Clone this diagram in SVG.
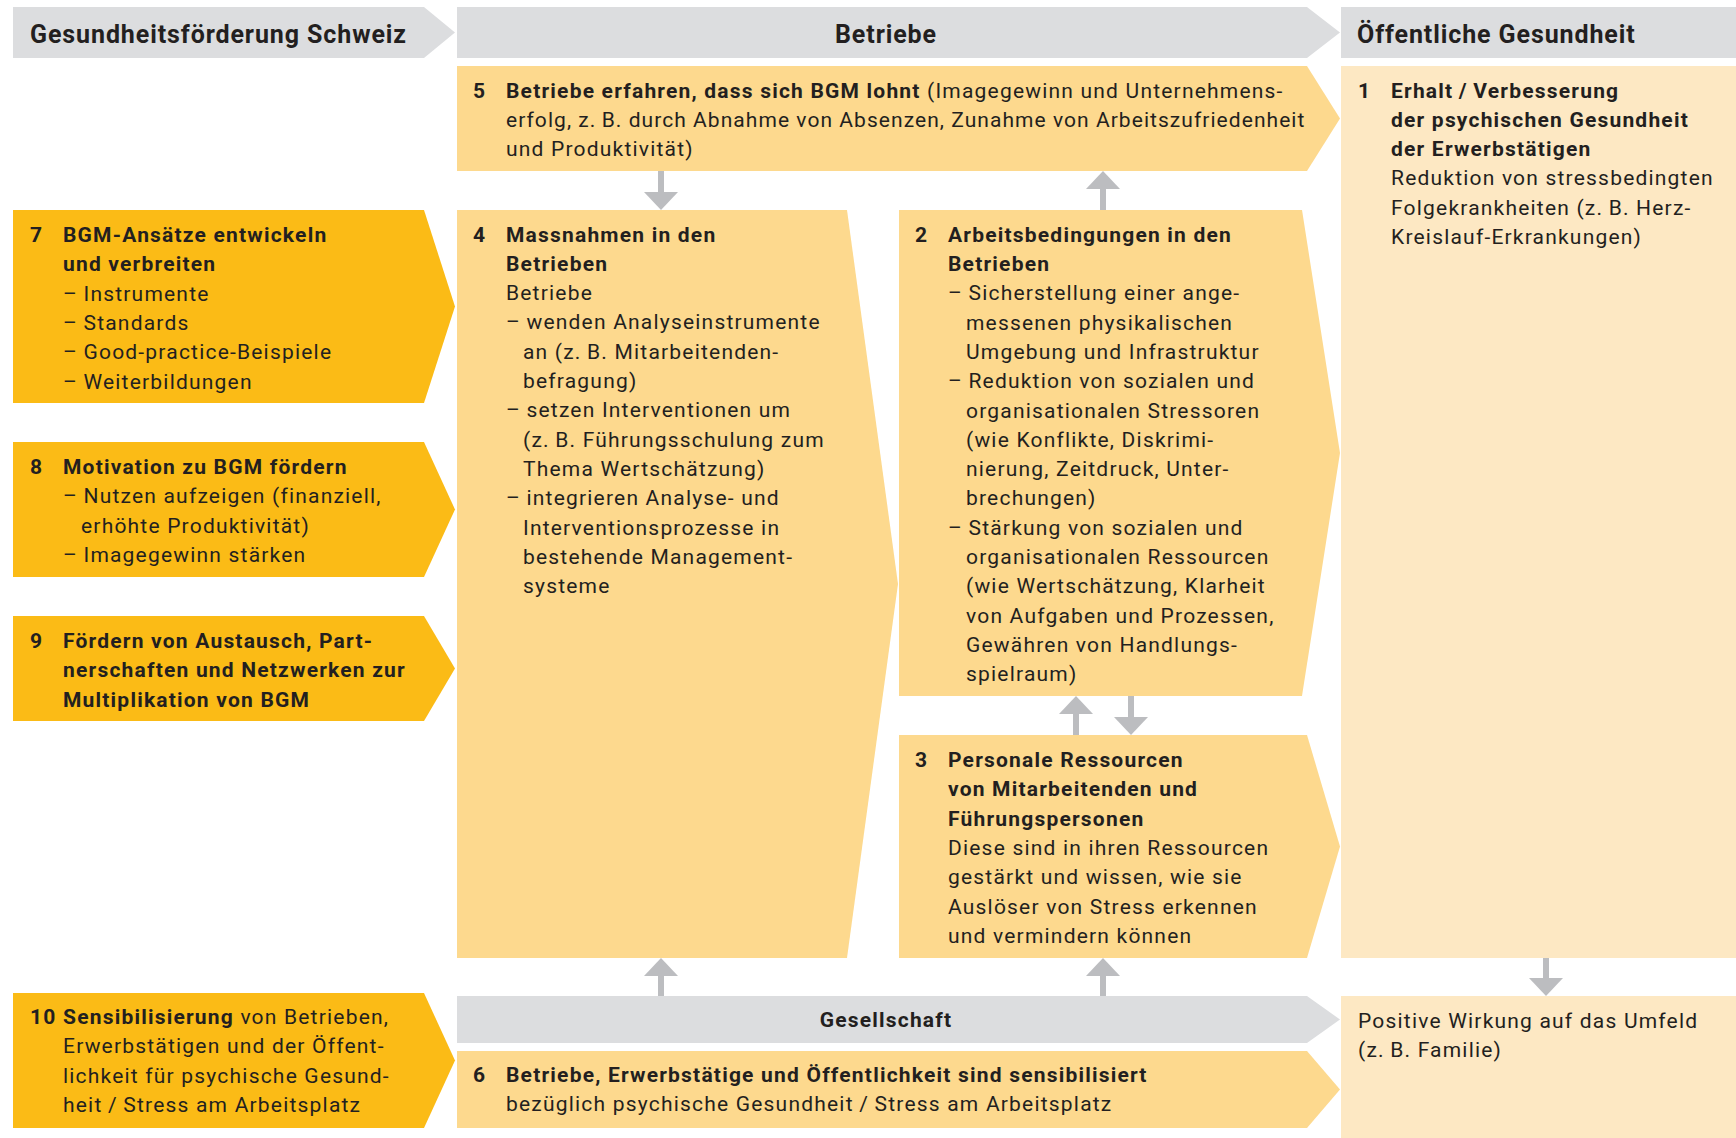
<svg xmlns="http://www.w3.org/2000/svg" width="1736" height="1138" viewBox="0 0 1736 1138">
<style>
.t{font-family:Roboto,"Liberation Sans",sans-serif;font-size:21px;fill:#231f20;letter-spacing:1.2px}
.b{font-weight:700}
.h{font-size:25px;font-weight:700;letter-spacing:0.9px}
.gray{fill:#dcdddf}
.dark{fill:#fbbb16}
.light{fill:#fdd98e}
.cream{fill:#fde8c3}
.arr{stroke:#bcbdc0;stroke-width:6;fill:none}
</style>
<defs>
<marker id="ah" markerUnits="userSpaceOnUse" viewBox="0 0 18 34" markerWidth="18" markerHeight="34" refX="0" refY="17" orient="auto">
<path d="M0,0 L18,17 L0,34 Z" fill="#bcbdc0"/>
</marker>
</defs>

<g id="header-gfs">
<polygon class="gray" points="13,7 424,7 455,32.5 424,58 13,58"/>
<text class="t h" x="30" y="43">Gesundheitsförderung Schweiz</text>
</g>
<g id="header-betriebe">
<polygon class="gray" points="457,7 1307,7 1340,32.5 1307,58 457,58"/>
<text class="t h" x="886" y="43" text-anchor="middle">Betriebe</text>
</g>
<g id="header-oeffentlich">
<rect class="gray" x="1341" y="7" width="395" height="51"/>
<text class="t h" x="1357" y="43">Öffentliche Gesundheit</text>
</g>

<g id="node5">
<polygon class="light" points="457,66 1307,66 1340,118.5 1307,171 457,171"/>
<text class="t b" x="473" y="97.5">5</text>
<text class="t" x="506" y="97.5"><tspan class="b">Betriebe erfahren, dass sich BGM lohnt</tspan> (Imagegewinn und Unternehmens-</text>
<text class="t" x="506" y="126.8" style="letter-spacing:1.05px">erfolg, z.&#8201;B. durch Abnahme von Absenzen, Zunahme von Arbeitszufriedenheit</text>
<text class="t" x="506" y="156.1">und Produktivität)</text>
</g>

<g id="node1">
<rect class="cream" x="1341" y="66" width="395" height="892"/>
<text class="t b" x="1358" y="97.5">1</text>
<text class="t b" x="1391" y="97.5">Erhalt&#8201;/&#8201;Verbesserung</text>
<text class="t b" x="1391" y="126.8">der psychischen Gesundheit</text>
<text class="t b" x="1391" y="156.1">der Erwerbstätigen</text>
<text class="t" x="1391" y="185.4">Reduktion von stressbedingten</text>
<text class="t" x="1391" y="214.7">Folgekrankheiten (z.&#8201;B. Herz-</text>
<text class="t" x="1391" y="244">Kreislauf-Erkrankungen)</text>
</g>

<g id="node7">
<polygon class="dark" points="13,210 424,210 455,306.5 424,403 13,403"/>
<text class="t b" x="30" y="242">7</text>
<text class="t b" x="63" y="242">BGM-Ansätze entwickeln</text>
<text class="t b" x="63" y="271.3">und verbreiten</text>
<text class="t" x="63" y="300.6">–&#8201;Instrumente</text>
<text class="t" x="63" y="329.9">–&#8201;Standards</text>
<text class="t" x="63" y="359.2">–&#8201;Good-practice-Beispiele</text>
<text class="t" x="63" y="388.5">–&#8201;Weiterbildungen</text>
</g>

<g id="node8">
<polygon class="dark" points="13,442 424,442 455,509.5 424,577 13,577"/>
<text class="t b" x="30" y="474">8</text>
<text class="t b" x="63" y="474">Motivation zu BGM fördern</text>
<text class="t" x="63" y="503.3">–&#8201;Nutzen aufzeigen (finanziell,</text>
<text class="t" x="81" y="532.6">erhöhte Produktivität)</text>
<text class="t" x="63" y="561.9">–&#8201;Imagegewinn stärken</text>
</g>

<g id="node9">
<polygon class="dark" points="13,616 424,616 455,668.5 424,721 13,721"/>
<text class="t b" x="30" y="648">9</text>
<text class="t b" x="63" y="648">Fördern von Austausch, Part-</text>
<text class="t b" x="63" y="677.3">nerschaften und Netzwerken zur</text>
<text class="t b" x="63" y="706.6">Multiplikation von BGM</text>
</g>

<g id="node10">
<polygon class="dark" points="13,993 424,993 455,1060.5 424,1128 13,1128"/>
<text class="t b" x="30" y="1024">10</text>
<text class="t" x="63" y="1024"><tspan class="b">Sensibilisierung</tspan> von Betrieben,</text>
<text class="t" x="63" y="1053.3">Erwerbstätigen und der Öffent-</text>
<text class="t" x="63" y="1082.6">lichkeit für psychische Gesund-</text>
<text class="t" x="63" y="1111.9">heit&#8201;/&#8201;Stress am Arbeitsplatz</text>
</g>

<g id="node4">
<polygon class="light" points="457,210 847,210 898,584 847,958 457,958"/>
<text class="t b" x="473" y="241.5">4</text>
<text class="t b" x="506" y="241.5">Massnahmen in den</text>
<text class="t b" x="506" y="270.8">Betrieben</text>
<text class="t" x="506" y="300.1">Betriebe</text>
<text class="t" x="506" y="329.4">–&#8201;wenden Analyseinstrumente</text>
<text class="t" x="523" y="358.7">an (z.&#8201;B. Mitarbeitenden-</text>
<text class="t" x="523" y="388">befragung)</text>
<text class="t" x="506" y="417.3">–&#8201;setzen Interventionen um</text>
<text class="t" x="523" y="446.6">(z.&#8201;B. Führungsschulung zum</text>
<text class="t" x="523" y="475.9">Thema Wertschätzung)</text>
<text class="t" x="506" y="505.2">–&#8201;integrieren Analyse- und</text>
<text class="t" x="523" y="534.5">Interventionsprozesse in</text>
<text class="t" x="523" y="563.8">bestehende Management-</text>
<text class="t" x="523" y="593.1">systeme</text>
</g>

<g id="node2">
<polygon class="light" points="899,210 1302,210 1340,453 1302,696 899,696"/>
<text class="t b" x="915" y="241.7">2</text>
<text class="t b" x="948" y="241.7">Arbeitsbedingungen in den</text>
<text class="t b" x="948" y="271">Betrieben</text>
<text class="t" x="948" y="300.3">–&#8201;Sicherstellung einer ange-</text>
<text class="t" x="966" y="329.6">messenen physikalischen</text>
<text class="t" x="966" y="358.9">Umgebung und Infrastruktur</text>
<text class="t" x="948" y="388.2">–&#8201;Reduktion von sozialen und</text>
<text class="t" x="966" y="417.5">organisationalen Stressoren</text>
<text class="t" x="966" y="446.8">(wie Konflikte, Diskrimi-</text>
<text class="t" x="966" y="476.1">nierung, Zeitdruck, Unter-</text>
<text class="t" x="966" y="505.4">brechungen)</text>
<text class="t" x="948" y="534.7">–&#8201;Stärkung von sozialen und</text>
<text class="t" x="966" y="564">organisationalen Ressourcen</text>
<text class="t" x="966" y="593.3">(wie Wertschätzung, Klarheit</text>
<text class="t" x="966" y="622.6">von Aufgaben und Prozessen,</text>
<text class="t" x="966" y="651.9">Gewähren von Handlungs-</text>
<text class="t" x="966" y="681.2">spielraum)</text>
</g>

<g id="node3">
<polygon class="light" points="899,735 1307,735 1340,846.5 1307,958 899,958"/>
<text class="t b" x="915" y="767">3</text>
<text class="t b" x="948" y="767">Personale Ressourcen</text>
<text class="t b" x="948" y="796.3">von Mitarbeitenden und</text>
<text class="t b" x="948" y="825.6">Führungspersonen</text>
<text class="t" x="948" y="854.9">Diese sind in ihren Ressourcen</text>
<text class="t" x="948" y="884.2">gestärkt und wissen, wie sie</text>
<text class="t" x="948" y="913.5">Auslöser von Stress erkennen</text>
<text class="t" x="948" y="942.8">und vermindern können</text>
</g>

<g id="header-gesellschaft">
<polygon class="gray" points="457,996 1307,996 1340,1019.5 1307,1043 457,1043"/>
<text class="t b" x="886" y="1027" text-anchor="middle">Gesellschaft</text>
</g>

<g id="node6">
<polygon class="light" points="457,1051 1307,1051 1340,1089.5 1307,1128 457,1128"/>
<text class="t b" x="473" y="1082">6</text>
<text class="t b" x="506" y="1082">Betriebe, Erwerbstätige und Öffentlichkeit sind sensibilisiert</text>
<text class="t" x="506" y="1111.3">bezüglich psychische Gesundheit&#8201;/&#8201;Stress am Arbeitsplatz</text>
</g>

<g id="node-umfeld">
<rect class="cream" x="1341" y="996" width="395" height="142"/>
<text class="t" x="1358" y="1028">Positive Wirkung auf das Umfeld</text>
<text class="t" x="1358" y="1057.3">(z.&#8201;B. Familie)</text>
</g>

<g id="connectors">
<line class="arr" x1="661" y1="171" x2="661" y2="192" marker-end="url(#ah)"/>
<line class="arr" x1="1103" y1="210" x2="1103" y2="189" marker-end="url(#ah)"/>
<line class="arr" x1="1076" y1="735" x2="1076" y2="714" marker-end="url(#ah)"/>
<line class="arr" x1="1131" y1="696" x2="1131" y2="717" marker-end="url(#ah)"/>
<line class="arr" x1="661" y1="996" x2="661" y2="976" marker-end="url(#ah)"/>
<line class="arr" x1="1103" y1="996" x2="1103" y2="976" marker-end="url(#ah)"/>
<line class="arr" x1="1546" y1="958" x2="1546" y2="978" marker-end="url(#ah)"/>
</g>
</svg>
